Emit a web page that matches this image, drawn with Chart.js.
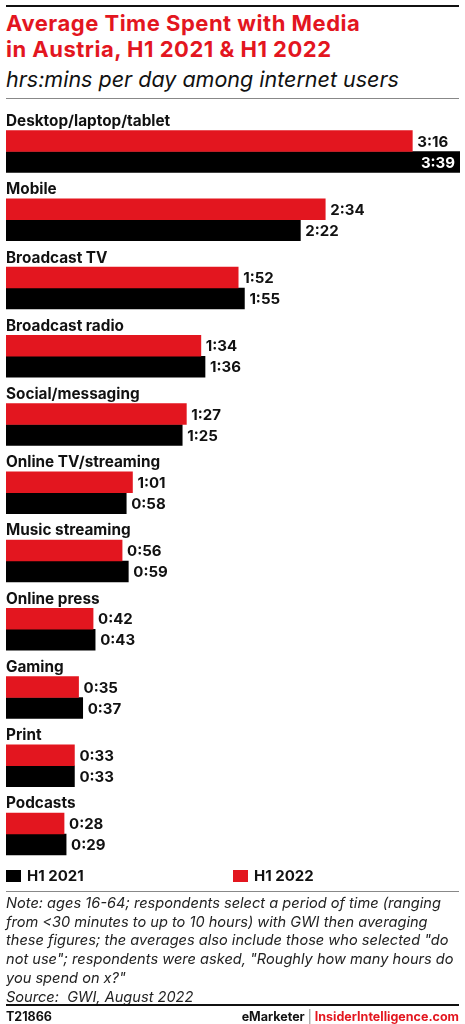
<!DOCTYPE html>
<html>
<head>
<meta charset="utf-8">
<script src="https://cdn.jsdelivr.net/npm/chart.js@4/dist/chart.umd.min.js"></script>
<style>
  html, body { margin: 0; padding: 0; background: #fff; }
  body { width: 465px; height: 1024px; position: relative; overflow: hidden; font-family: Inter, "Liberation Sans", sans-serif; }
  .abs { position: absolute; }
  .rule { position: absolute; left: 6px; width: 453px; }
  #title { left: 6px; top: 10px; color: #e3161f; font-weight: 700; font-size: 22px; line-height: 26px; letter-spacing: 0.5px; white-space: nowrap; }
  #subtitle { left: 6px; top: 66px; color: #111; font-style: italic; font-size: 21.5px; line-height: 26px; white-space: nowrap; }
  #chartWrap { position: absolute; left: 0; top: 0; width: 465px; height: 1024px; }
  .legend { top: 866px; font-size: 15px; font-weight: 700; color: #111; display: flex; align-items: center; }
  .legend span.sw { display: inline-block; width: 15px; height: 12px; margin-right: 6px; }
  #note { left: 6px; top: 894px; width: 455px; font-style: italic; font-size: 14.6px; line-height: 18.7px; color: #222; }
  #code { left: 6px; top: 1009px; font-size: 12.5px; font-weight: 700; color: #111; }
  #brand { right: 6px; top: 1009px; font-size: 12.5px; font-weight: 700; color: #111; }
</style>
</head>
<body>
<div class="rule" style="top:5px;height:2px;background:#111;"></div>
<div id="title" class="abs">Average Time Spent with Media<br>in Austria, H1 2021 &amp; H1 2022</div>
<div id="subtitle" class="abs">hrs:mins per day among internet users</div>
<div class="rule" style="top:98px;height:1px;background:#888;"></div>

<div id="chartWrap"><canvas id="chart" width="465" height="1024"></canvas></div>

<div class="abs legend" style="left:6px;"><span class="sw" style="background:#000;"></span>H1 2021</div>
<div class="abs legend" style="left:233px;"><span class="sw" style="background:#e3161f;"></span>H1 2022</div>
<div class="rule" style="top:891px;height:1px;background:#888;"></div>
<div id="note" class="abs">Note: ages 16-64; respondents select a period of time (ranging from &lt;30 minutes to up to 10 hours) with GWI then averaging these figures; the averages also include those who selected "do not use"; respondents were asked, "Roughly how many hours do you spend on x?"<br>Source:&nbsp; GWI, August 2022</div>
<div class="rule" style="top:1004px;height:2px;background:#111;"></div>
<div id="code" class="abs">T21866</div>
<div id="brand" class="abs">eMarketer <span style="color:#888;font-weight:400;">|</span> <span style="color:#e3161f;">InsiderIntelligence.com</span></div>

<script>
// Media categories, top to bottom
const categories = [
  "Desktop/laptop/tablet", "Mobile", "Broadcast TV", "Broadcast radio",
  "Social/messaging", "Online TV/streaming", "Music streaming",
  "Online press", "Gaming", "Print", "Podcasts"
];
// Minutes per day
const h1_2022 = [196, 154, 112, 94, 87, 61, 56, 42, 35, 33, 28];
const h1_2021 = [219, 142, 115, 96, 85, 58, 59, 43, 37, 33, 29];
const seriesNames = ["H1 2022", "H1 2021"];
const seriesColors = ["#e3161f", "#000000"];

function fmt(mins) {
  const h = Math.floor(mins / 60);
  const m = mins % 60;
  return h + ":" + String(m).padStart(2, "0");
}

const maxVal = Math.max(...h1_2022, ...h1_2021);

// Category names above each pair of bars, and value labels at bar ends
const labelPlugin = {
  id: "labels",
  afterDatasetsDraw(chart) {
    const ctx = chart.ctx;
    const yScale = chart.scales.y;
    ctx.save();
    ctx.fillStyle = "#111";
    ctx.font = "700 15.3px Inter, 'Liberation Sans', sans-serif";
    ctx.textAlign = "left";
    ctx.textBaseline = "alphabetic";
    categories.forEach((c, i) => {
      const yc = yScale.getPixelForValue(i);
      ctx.fillText(c, 6, yc - 25.5);
    });
    ctx.font = "700 15px Inter, 'Liberation Sans', sans-serif";
    chart.data.datasets.forEach((ds, di) => {
      const meta = chart.getDatasetMeta(di);
      meta.data.forEach((bar, i) => {
        const v = ds.data[i];
        const text = fmt(v);
        ctx.textBaseline = "middle";
        if (v === maxVal) {
          ctx.fillStyle = "#fff";
          ctx.textAlign = "right";
          ctx.fillText(text, bar.x - 5, bar.y + 1);
        } else {
          ctx.fillStyle = "#111";
          ctx.textAlign = "left";
          ctx.fillText(text, bar.x + 5, bar.y + 1);
        }
      });
    });
    ctx.restore();
  }
};

new Chart(document.getElementById("chart"), {
  type: "bar",
  data: {
    labels: categories,
    datasets: [
      { label: seriesNames[0], data: h1_2022, backgroundColor: seriesColors[0], barThickness: 21 },
      { label: seriesNames[1], data: h1_2021, backgroundColor: seriesColors[1], barThickness: 21 }
    ]
  },
  options: {
    indexAxis: "y",
    responsive: false,
    animation: false,
    layout: { padding: { left: 6, right: 5, top: 117.4, bottom: 1024 - 868.1 } },
    scales: {
      x: { display: false, min: 0, max: maxVal },
      y: { display: false }
    },
    plugins: { legend: { display: false }, tooltip: { enabled: false } }
  },
  plugins: [labelPlugin]
});
</script>
</body>
</html>
